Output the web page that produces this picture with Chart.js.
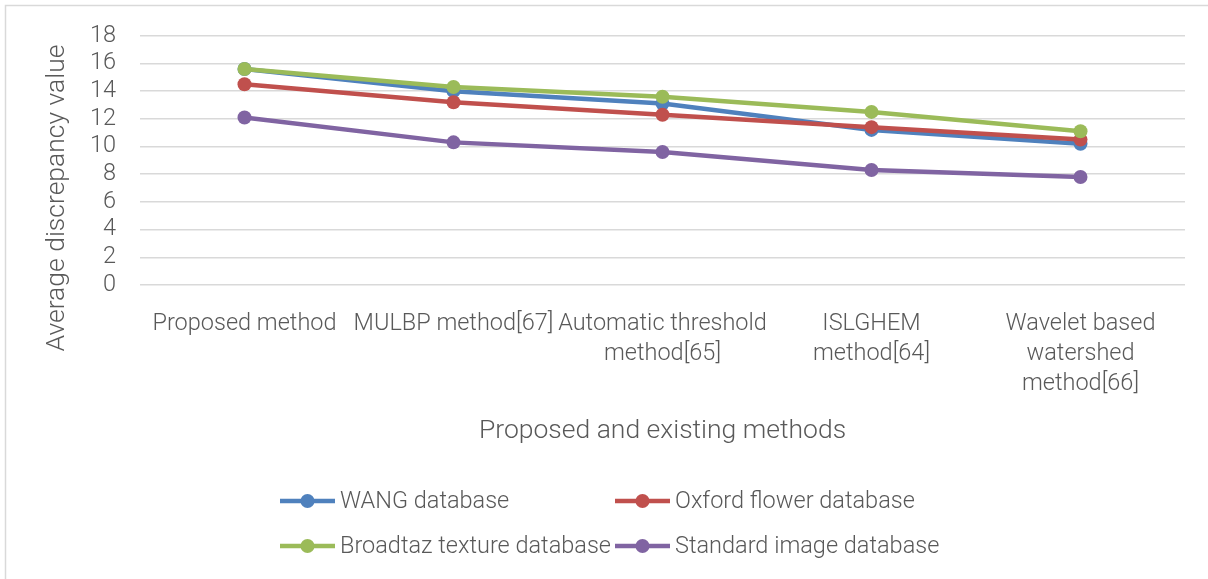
<!DOCTYPE html>
<html>
<head>
<meta charset="utf-8">
<script src="https://cdn.jsdelivr.net/npm/chart.js@4.4.1/dist/chart.umd.min.js"></script>
<style>
  html, body { margin: 0; padding: 0; background: #ffffff; }
  #wrap { position: relative; width: 1208px; height: 579px; }
</style>
</head>
<body>
<div id="wrap"><canvas id="chart" width="1208" height="579"></canvas></div>
<script>
// Methods compared (x-axis categories, pre-wrapped into lines)
const categories = [
  ['Proposed method'],
  ['MULBP method[67]'],
  ['Automatic threshold', 'method[65]'],
  ['ISLGHEM', 'method[64]'],
  ['Wavelet based', 'watershed', 'method[66]']
];

// Average discrepancy per database
const wangValues     = [15.6, 14.0, 13.1, 11.2, 10.2];
const oxfordValues   = [14.5, 13.2, 12.3, 11.4, 10.5];
const broadtazValues = [15.6, 14.3, 13.6, 12.5, 11.1];
const standardValues = [12.1, 10.3, 9.6, 8.3, 7.8];

const seriesNames = ['WANG database', 'Oxford flower database', 'Broadtaz texture database', 'Standard image database'];
const seriesColors = ['#4f81bd', '#c0504d', '#9bbb59', '#8064a2'];

// Y axis ticks
const yMin = 0, yMax = 18, yStep = 2;

const xTitle = 'Proposed and existing methods';
const yTitle = 'Average discrepancy value';

const FONT = "'Roboto', 'Liberation Sans', sans-serif";
const TEXT = '#595959';
const LABEL_SIZE = 23.5;
const TITLE_SIZE = 26.5;

const seriesValues = [wangValues, oxfordValues, broadtazValues, standardValues];
const datasets = seriesValues.map((vals, i) => ({
  label: seriesNames[i],
  data: vals,
  borderColor: seriesColors[i],
  backgroundColor: seriesColors[i],
  pointBackgroundColor: seriesColors[i],
  pointBorderColor: seriesColors[i],
  borderWidth: 4.5,
  pointRadius: 7,
  pointHoverRadius: 7,
  pointBorderWidth: 0,
  tension: 0,
  order: seriesValues.length - i   // later series drawn on top
}));

// Frame lines, axis titles and two-column legend
const decorPlugin = {
  id: 'decor',
  beforeDraw(chart) {
    const ctx = chart.ctx;
    ctx.save();
    ctx.fillStyle = '#ffffff';
    ctx.fillRect(0, 0, chart.width, chart.height);
    ctx.strokeStyle = '#d9d9d9';
    ctx.lineWidth = 1.5;
    ctx.beginPath();
    ctx.moveTo(5.5, chart.height);
    ctx.lineTo(5.5, 5.5);
    ctx.lineTo(chart.width, 5.5);
    ctx.stroke();
    ctx.restore();
  },
  afterDraw(chart) {
    const ctx = chart.ctx;
    const area = chart.chartArea;
    ctx.save();
    ctx.fillStyle = TEXT;
    ctx.font = '300 ' + TITLE_SIZE + 'px ' + FONT;
    ctx.textAlign = 'center';
    ctx.textBaseline = 'middle';
    // x axis title
    ctx.fillText(xTitle, (area.left + area.right) / 2, 431);
    // y axis title
    ctx.translate(57, 198);
    ctx.rotate(-Math.PI / 2);
    ctx.fillText(yTitle, 0, 0);
    ctx.restore();

    // legend
    ctx.save();
    const cols = [280, 615];
    const rows = [501, 546];
    ctx.font = '300 ' + LABEL_SIZE + 'px ' + FONT;
    ctx.textAlign = 'left';
    ctx.textBaseline = 'middle';
    chart.data.datasets.forEach((ds, i) => {
      const x = cols[i % 2];
      const y = rows[Math.floor(i / 2)];
      ctx.strokeStyle = ds.borderColor;
      ctx.lineWidth = 4.5;
      ctx.beginPath();
      ctx.moveTo(x, y);
      ctx.lineTo(x + 55, y);
      ctx.stroke();
      ctx.fillStyle = ds.borderColor;
      ctx.beginPath();
      ctx.arc(x + 27.5, y, 7, 0, Math.PI * 2);
      ctx.fill();
      ctx.fillStyle = TEXT;
      ctx.fillText(ds.label, x + 60, y + 1);
    });
    ctx.restore();
  }
};

new Chart(document.getElementById('chart'), {
  type: 'line',
  data: { labels: categories, datasets },
  options: {
    responsive: false,
    animation: false,
    devicePixelRatio: 1,
    layout: { padding: { left: 0, right: 23, top: 29, bottom: 0 } },
    plugins: {
      legend: { display: false },
      tooltip: { enabled: false },
      title: { display: false }
    },
    scales: {
      x: {
        offset: true,
        grid: { display: false, drawTicks: false },
        border: { display: false },
        ticks: {
          color: TEXT,
          font: { family: FONT, size: LABEL_SIZE, weight: 300, lineHeight: 1.28 },
          padding: 24,
          maxRotation: 0,
          autoSkip: false
        },
        afterFit(scale) { scale.height = 579 - 285; }
      },
      y: {
        min: yMin,
        max: yMax,
        grid: { color: '#d9d9d9', lineWidth: 1.5, drawTicks: false },
        border: { display: false },
        ticks: {
          stepSize: yStep,
          autoSkip: false,
          color: TEXT,
          font: { family: FONT, size: LABEL_SIZE, weight: 300, lineHeight: 1 },
          padding: 24
        },
        afterFit(scale) { scale.width = 140; }
      }
    }
  },
  plugins: [decorPlugin]
});
</script>
</body>
</html>
